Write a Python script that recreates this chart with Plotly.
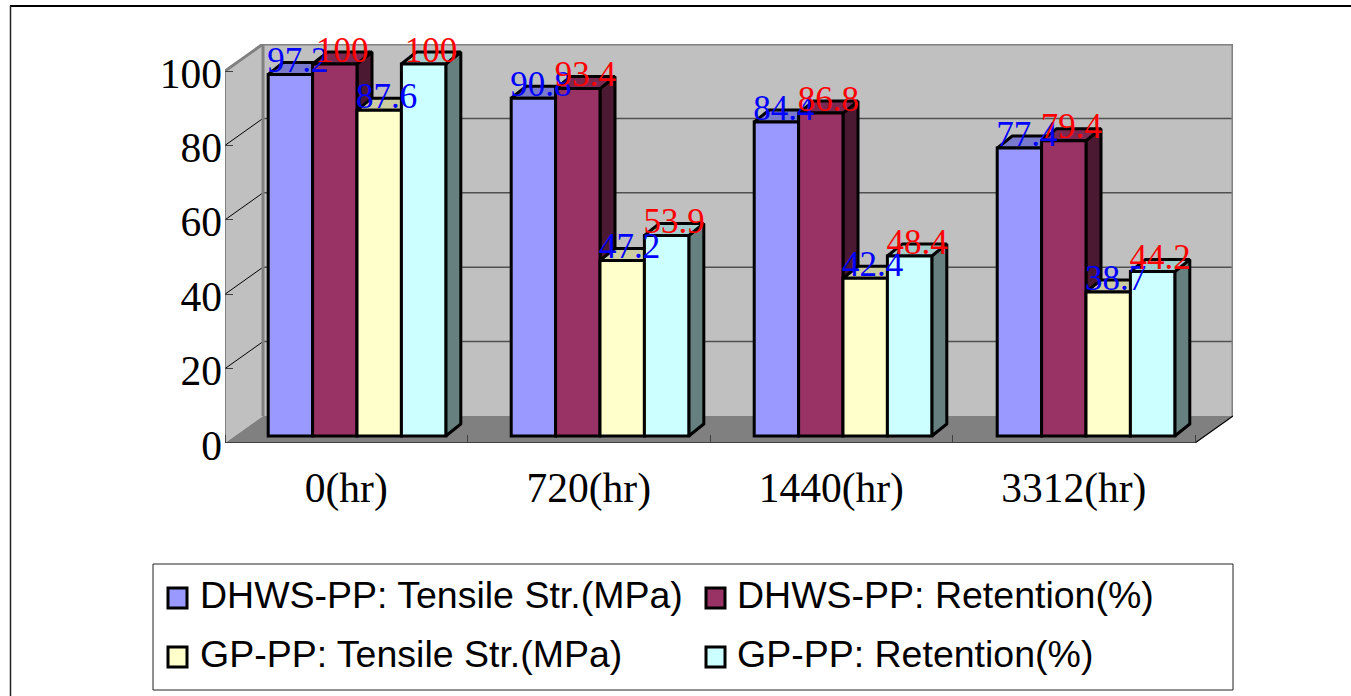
import plotly.graph_objects as go

categories = ["0(hr)", "720(hr)", "1440(hr)", "3312(hr)"]
series_names = ["DHWS-PP: Tensile Str.(MPa)", "DHWS-PP: Retention(%)",
                "GP-PP: Tensile Str.(MPa)", "GP-PP: Retention(%)"]
dhws_tensile = [97.2, 90.8, 84.4, 77.4]
dhws_retention = [100, 93.4, 86.8, 79.4]
gp_tensile = [87.6, 47.2, 42.4, 38.7]
gp_retention = [100, 53.9, 48.4, 44.2]
y_ticks = [0, 20, 40, 60, 80, 100]

all_series = [dhws_tensile, dhws_retention, gp_tensile, gp_retention]
front_colors = ["#9999FF", "#993366", "#FFFFCC", "#CCFFFF"]
side_colors = ["#4C4C80", "#4C1933", "#808066", "#668080"]
top_colors = ["#7A7ACC", "#7A2952", "#CCCCA3", "#A3CCCC"]
label_colors = ["#0000FF", "#FF0000", "#0000FF", "#FF0000"]

# plot frame in pixels; everything else is in data units derived from it
L, R, T, B = 225, 1233, 44, 443
X_UNIT = 242.5
Y_UNIT = 3.72
WALL_DX = 38 / X_UNIT
WALL_DY = 27 / Y_UNIT
BAR_DX = 15 / X_UNIT
BAR_DY = 12 / Y_UNIT
BAR_W = 44.4 / X_UNIT
BAR_X0 = 43.2 / X_UNIT
GROUP_STEP = 243 / X_UNIT
BAR_BASE = 7 / Y_UNIT
LABEL_LIFT = 11 / Y_UNIT
XMAX = (R - L) / X_UNIT
YMAX = (B - T) / Y_UNIT


def px(x):
    return (x - L) / (R - L)


def py(y):
    return (B - y) / (B - T)


fig = go.Figure()


def poly(xs, ys, fill, line=None, width=0):
    fig.add_trace(go.Scatter(x=xs, y=ys, mode="lines", fill="toself", fillcolor=fill,
                             line=dict(color=line or fill, width=width),
                             hoverinfo="skip", showlegend=False, cliponaxis=False))


def seg(xs, ys, color, width):
    fig.add_trace(go.Scatter(x=xs, y=ys, mode="lines", line=dict(color=color, width=width),
                             hoverinfo="skip", showlegend=False, cliponaxis=False))


# walls and floor
poly([WALL_DX, XMAX, XMAX, WALL_DX, WALL_DX], [WALL_DY, WALL_DY, YMAX, YMAX, WALL_DY], "#C0C0C0")
poly([0, WALL_DX, WALL_DX, 0, 0], [0, WALL_DY, YMAX, 100, 0], "#C0C0C0")
poly([0, 4, XMAX, WALL_DX, 0], [0, 0, WALL_DY, WALL_DY, 0], "#808080")

# gridlines
for v in y_ticks[1:-1]:
    seg([WALL_DX, XMAX], [v + WALL_DY, v + WALL_DY], "#505050", 1.5)
    seg([0, WALL_DX], [v, v + WALL_DY], "#000000", 1)

# wall edges
seg([0, WALL_DX, XMAX, XMAX], [100, YMAX, YMAX, WALL_DY], "#808080", 3)
seg([WALL_DX, WALL_DX], [WALL_DY, YMAX], "#808080", 3)
seg([0, 0], [0, 100], "#404040", 1)
seg([0, 4, XMAX], [0, 0, WALL_DY], "#000000", 1.2)

# side and top faces, left to right
for s, vals in enumerate(all_series):
    sx, sy, tx, ty = [], [], [], []
    for g, v in enumerate(vals):
        x0 = g * GROUP_STEP + BAR_X0 + s * BAR_W
        x1 = x0 + BAR_W
        top = v + BAR_BASE
        sx += [x1, x1 + BAR_DX, x1 + BAR_DX, x1, x1, None]
        sy += [BAR_BASE, BAR_BASE + BAR_DY, top + BAR_DY, top, BAR_BASE, None]
        tx += [x0, x1, x1 + BAR_DX, x0 + BAR_DX, x0, None]
        ty += [top, top, top + BAR_DY, top + BAR_DY, top, None]
    poly(sx, sy, side_colors[s], "#000000", 3)
    poly(tx, ty, top_colors[s], "#000000", 3)

# front faces
for s, vals in enumerate(all_series):
    fig.add_trace(go.Bar(
        x=[g * GROUP_STEP + BAR_X0 + (s + 0.5) * BAR_W for g in range(4)], y=vals, base=BAR_BASE,
        width=BAR_W, name=series_names[s], xaxis="x2", yaxis="y2",
        marker=dict(color=front_colors[s], line=dict(color="#000000", width=3)),
        showlegend=False))

# data labels
for s, vals in enumerate(all_series):
    fig.add_trace(go.Scatter(
        x=[g * GROUP_STEP + BAR_X0 + (s + 0.5) * BAR_W + BAR_DX / 2 for g in range(4)],
        y=[v + BAR_BASE + LABEL_LIFT for v in vals],
        text=[str(v) for v in vals], mode="text", textposition="middle center",
        textfont=dict(family="Liberation Serif", size=35, color=label_colors[s]),
        xaxis="x2", yaxis="y2", hoverinfo="skip", showlegend=False, cliponaxis=False))

# legend and page frame
shapes = [
    dict(type="rect", xref="paper", yref="paper", x0=px(153), x1=px(1233), y0=py(690), y1=py(564),
         fillcolor="#FFFFFF", line=dict(color="#222222", width=1)),
    dict(type="line", xref="paper", yref="paper", x0=px(10), x1=px(1351), y0=py(6), y1=py(6),
         line=dict(color="#000000", width=2)),
    dict(type="line", xref="paper", yref="paper", x0=px(10.5), x1=px(10.5), y0=py(6), y1=py(696),
         line=dict(color="#222222", width=1.5)),
]
annotations = []
legend_pos = [(168, 598, 198), (706, 598, 735), (168, 657, 198), (706, 657, 735)]
for s, (sx, cy, tx) in enumerate(legend_pos):
    shapes.append(dict(type="rect", xref="paper", yref="paper", x0=px(sx), x1=px(sx + 19),
                       y0=py(cy + 10), y1=py(cy - 10), fillcolor=front_colors[s],
                       line=dict(color="#000000", width=3)))
    annotations.append(dict(xref="paper", yref="paper", x=px(tx), y=py(cy - 3), xanchor="left",
                            yanchor="middle", showarrow=False, text=series_names[s],
                            font=dict(family="Liberation Sans", size=37.5, color="#000000")))

serif = dict(family="Liberation Serif", size=41.5, color="#000000")
fig.update_layout(
    width=1351, height=696, autosize=False,
    margin=dict(l=L, r=1351 - R, t=T, b=696 - B, pad=0),
    paper_bgcolor="#FFFFFF", plot_bgcolor="#FFFFFF",
    barmode="overlay", showlegend=False,
    shapes=shapes, annotations=annotations,
    xaxis=dict(range=[0, XMAX], tickvals=[0.5, 1.5, 2.5, 3.5], ticktext=categories, ticks="",
               showgrid=False, zeroline=False, showline=False, tickfont=serif, ticklabelstandoff=16,
               minor=dict(tickmode="array", tickvals=[0, 1, 2, 3, 4], ticks="inside", ticklen=8,
                          tickcolor="#404040", tickwidth=1, showgrid=False)),
    yaxis=dict(range=[0, YMAX], tickvals=y_ticks, ticks="inside", ticklen=8, tickwidth=1,
               tickcolor="#404040", showgrid=False, zeroline=False, showline=False, tickfont=serif,
               ticklabelstandoff=2, ticklabelshift=2),
    xaxis2=dict(range=[0, XMAX], overlaying="x", visible=False),
    yaxis2=dict(range=[0, YMAX], overlaying="y", visible=False),
)

fig.write_html("out.html", config=dict(displayModeBar=False),
               post_script="document.body.style.margin='0';document.body.style.overflow='hidden';")
